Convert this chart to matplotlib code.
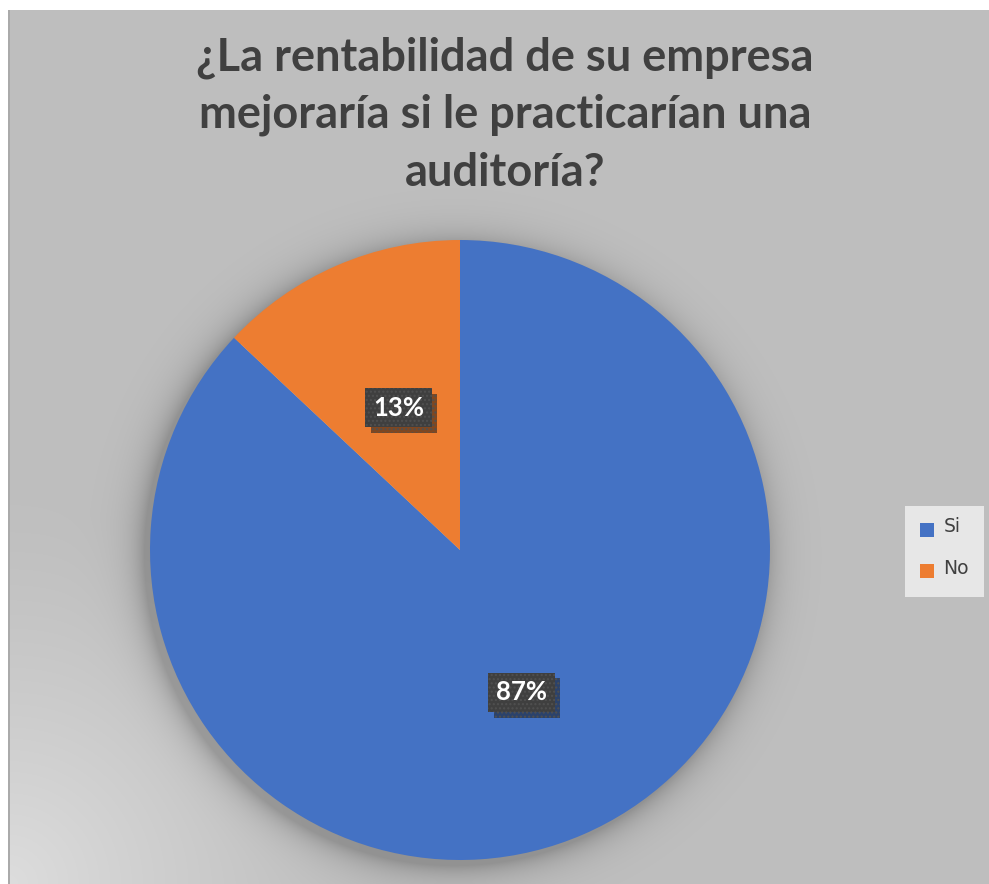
import matplotlib.pyplot as plt
import matplotlib.patheffects as pe
from matplotlib.patches import Patch
import numpy as np

title = "¿La rentabilidad de su empresa\nmejoraría si le practicarían una\nauditoría?"
labels = ["Si", "No"]
values = [87, 13]
colors = ["#4472C4", "#ED7D31"]

W, H = 989, 884
fig = plt.figure(figsize=(W / 100, H / 100), dpi=100)
fig.patch.set_facecolor("white")

# background: gray chart area with light corner at bottom-left and soft pie shadow
yy, xx = np.mgrid[0:H, 0:W].astype(float)
v = np.full((H, W), 191.0)
d = np.hypot(xx - 8, yy - 884)
v += 30 * np.clip(1 - d / 380, 0, 1) ** 1.3
r = np.hypot(xx - 454, yy - 555)
v -= 45 * np.exp(-np.clip(r - 310, 0, None) / 15) * (r > 300)
img = np.dstack([v, v, v]) / 255.0
img[:10, :, :] = 1.0
img[:, :8, :] = 1.0
img[10:, 8:10, :] = 170 / 255.0

bg = fig.add_axes([0, 0, 1, 1])
bg.imshow(np.clip(img, 0, 1), aspect="auto", extent=(0, W, H, 0))
bg.axis("off")

fig.text(505 / W, 1 - 115 / H, title, ha="center", va="center",
         fontsize=32.5, fontweight="bold", color="#404040", family="Lato",
         linespacing=1.45)

ax = fig.add_axes([150 / W, (H - 860) / H, 620 / W, 620 / H])
wedges, texts, autotexts = ax.pie(values, colors=colors, startangle=90,
                                  counterclock=False, autopct="%1.0f%%",
                                  pctdistance=0.5, radius=1,
                                  wedgeprops=dict(linewidth=0))
ax.set_xlim(-1, 1)
ax.set_ylim(-1, 1)
ax.axis("off")

for t in autotexts:
    t.set_color("white")
    t.set_fontsize(18.5)
    t.set_fontweight("bold")
    t.set_family("Lato")
    t.set_bbox(dict(boxstyle="square,pad=0.3", facecolor="#3F3F3F",
                    edgecolor="#505050", hatch="....", linewidth=0))
    t.get_bbox_patch().set_path_effects(
        [pe.SimplePatchShadow(offset=(4, -4), alpha=0.5), pe.Normal()])

handles = [Patch(facecolor=c, edgecolor="none") for c in colors]
leg = fig.legend(handles, labels, loc="center",
                 bbox_to_anchor=(944.5 / W, 1 - 551.5 / H),
                 fontsize=13.5, frameon=True, fancybox=False,
                 handlelength=0.75, handleheight=0.75, handletextpad=0.5,
                 labelspacing=1.2, borderpad=0.8)
leg.get_frame().set_facecolor("#F2F2F2")
leg.get_frame().set_edgecolor("none")
for t in leg.get_texts():
    t.set_color("#404040")
    t.set_va("bottom")

fig.savefig("out.png", dpi=100)
